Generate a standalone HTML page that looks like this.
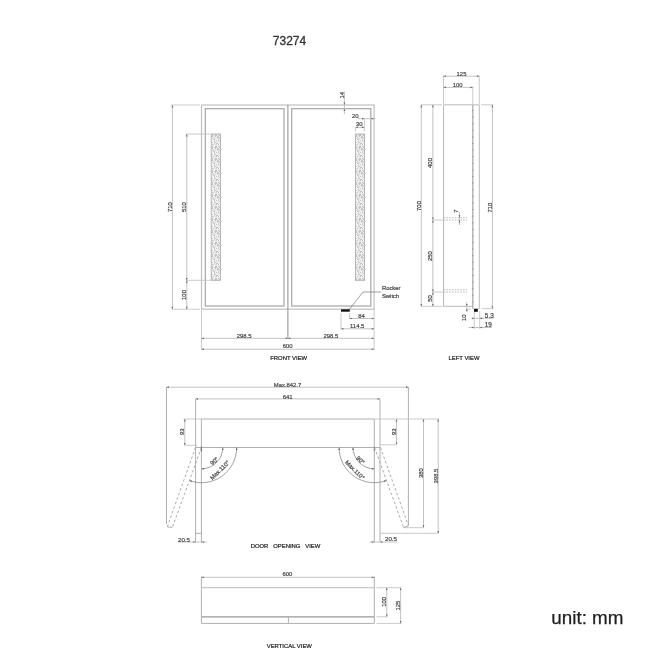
<!DOCTYPE html>
<html><head><meta charset="utf-8">
<style>
html,body{margin:0;padding:0;background:#fff;width:650px;height:650px;overflow:hidden}
svg{position:absolute;left:0;top:0;filter:blur(0.5px)}
text{font-family:"Liberation Sans",sans-serif}
</style></head><body>
<svg width="650" height="650" viewBox="0 0 650 650">
<defs>
<pattern id="led" x="211" y="134" width="9" height="12" patternUnits="userSpaceOnUse"><rect width="9" height="12" fill="#e2e2e2"/><rect x="0" y="0" width="1" height="1" fill="rgb(222,222,222)"/><rect x="1" y="0" width="1" height="1" fill="rgb(210,210,210)"/><rect x="2" y="0" width="1" height="1" fill="rgb(232,232,232)"/><rect x="3" y="0" width="1" height="1" fill="rgb(250,250,250)"/><rect x="4" y="0" width="1" height="1" fill="rgb(195,195,195)"/><rect x="5" y="0" width="1" height="1" fill="rgb(195,195,195)"/><rect x="6" y="0" width="1" height="1" fill="rgb(242,242,242)"/><rect x="7" y="0" width="1" height="1" fill="rgb(195,195,195)"/><rect x="8" y="0" width="1" height="1" fill="rgb(222,222,222)"/><rect x="0" y="1" width="1" height="1" fill="rgb(242,242,242)"/><rect x="1" y="1" width="1" height="1" fill="rgb(195,195,195)"/><rect x="2" y="1" width="1" height="1" fill="rgb(242,242,242)"/><rect x="3" y="1" width="1" height="1" fill="rgb(210,210,210)"/><rect x="4" y="1" width="1" height="1" fill="rgb(195,195,195)"/><rect x="5" y="1" width="1" height="1" fill="rgb(195,195,195)"/><rect x="6" y="1" width="1" height="1" fill="rgb(232,232,232)"/><rect x="7" y="1" width="1" height="1" fill="rgb(232,232,232)"/><rect x="8" y="1" width="1" height="1" fill="rgb(195,195,195)"/><rect x="0" y="2" width="1" height="1" fill="rgb(210,210,210)"/><rect x="1" y="2" width="1" height="1" fill="rgb(195,195,195)"/><rect x="2" y="2" width="1" height="1" fill="rgb(242,242,242)"/><rect x="3" y="2" width="1" height="1" fill="rgb(232,232,232)"/><rect x="4" y="2" width="1" height="1" fill="rgb(195,195,195)"/><rect x="5" y="2" width="1" height="1" fill="rgb(242,242,242)"/><rect x="6" y="2" width="1" height="1" fill="rgb(195,195,195)"/><rect x="7" y="2" width="1" height="1" fill="rgb(210,210,210)"/><rect x="8" y="2" width="1" height="1" fill="rgb(250,250,250)"/><rect x="0" y="3" width="1" height="1" fill="rgb(250,250,250)"/><rect x="1" y="3" width="1" height="1" fill="rgb(242,242,242)"/><rect x="2" y="3" width="1" height="1" fill="rgb(195,195,195)"/><rect x="3" y="3" width="1" height="1" fill="rgb(242,242,242)"/><rect x="4" y="3" width="1" height="1" fill="rgb(242,242,242)"/><rect x="5" y="3" width="1" height="1" fill="rgb(232,232,232)"/><rect x="6" y="3" width="1" height="1" fill="rgb(195,195,195)"/><rect x="7" y="3" width="1" height="1" fill="rgb(210,210,210)"/><rect x="8" y="3" width="1" height="1" fill="rgb(195,195,195)"/><rect x="0" y="4" width="1" height="1" fill="rgb(242,242,242)"/><rect x="1" y="4" width="1" height="1" fill="rgb(210,210,210)"/><rect x="2" y="4" width="1" height="1" fill="rgb(222,222,222)"/><rect x="3" y="4" width="1" height="1" fill="rgb(232,232,232)"/><rect x="4" y="4" width="1" height="1" fill="rgb(210,210,210)"/><rect x="5" y="4" width="1" height="1" fill="rgb(242,242,242)"/><rect x="6" y="4" width="1" height="1" fill="rgb(195,195,195)"/><rect x="7" y="4" width="1" height="1" fill="rgb(242,242,242)"/><rect x="8" y="4" width="1" height="1" fill="rgb(222,222,222)"/><rect x="0" y="5" width="1" height="1" fill="rgb(242,242,242)"/><rect x="1" y="5" width="1" height="1" fill="rgb(250,250,250)"/><rect x="2" y="5" width="1" height="1" fill="rgb(210,210,210)"/><rect x="3" y="5" width="1" height="1" fill="rgb(195,195,195)"/><rect x="4" y="5" width="1" height="1" fill="rgb(242,242,242)"/><rect x="5" y="5" width="1" height="1" fill="rgb(242,242,242)"/><rect x="6" y="5" width="1" height="1" fill="rgb(250,250,250)"/><rect x="7" y="5" width="1" height="1" fill="rgb(210,210,210)"/><rect x="8" y="5" width="1" height="1" fill="rgb(222,222,222)"/><rect x="0" y="6" width="1" height="1" fill="rgb(195,195,195)"/><rect x="1" y="6" width="1" height="1" fill="rgb(242,242,242)"/><rect x="2" y="6" width="1" height="1" fill="rgb(250,250,250)"/><rect x="3" y="6" width="1" height="1" fill="rgb(195,195,195)"/><rect x="4" y="6" width="1" height="1" fill="rgb(242,242,242)"/><rect x="5" y="6" width="1" height="1" fill="rgb(195,195,195)"/><rect x="6" y="6" width="1" height="1" fill="rgb(242,242,242)"/><rect x="7" y="6" width="1" height="1" fill="rgb(210,210,210)"/><rect x="8" y="6" width="1" height="1" fill="rgb(232,232,232)"/><rect x="0" y="7" width="1" height="1" fill="rgb(250,250,250)"/><rect x="1" y="7" width="1" height="1" fill="rgb(242,242,242)"/><rect x="2" y="7" width="1" height="1" fill="rgb(232,232,232)"/><rect x="3" y="7" width="1" height="1" fill="rgb(222,222,222)"/><rect x="4" y="7" width="1" height="1" fill="rgb(232,232,232)"/><rect x="5" y="7" width="1" height="1" fill="rgb(242,242,242)"/><rect x="6" y="7" width="1" height="1" fill="rgb(232,232,232)"/><rect x="7" y="7" width="1" height="1" fill="rgb(222,222,222)"/><rect x="8" y="7" width="1" height="1" fill="rgb(222,222,222)"/><rect x="0" y="8" width="1" height="1" fill="rgb(210,210,210)"/><rect x="1" y="8" width="1" height="1" fill="rgb(210,210,210)"/><rect x="2" y="8" width="1" height="1" fill="rgb(250,250,250)"/><rect x="3" y="8" width="1" height="1" fill="rgb(210,210,210)"/><rect x="4" y="8" width="1" height="1" fill="rgb(195,195,195)"/><rect x="5" y="8" width="1" height="1" fill="rgb(242,242,242)"/><rect x="6" y="8" width="1" height="1" fill="rgb(222,222,222)"/><rect x="7" y="8" width="1" height="1" fill="rgb(242,242,242)"/><rect x="8" y="8" width="1" height="1" fill="rgb(232,232,232)"/><rect x="0" y="9" width="1" height="1" fill="rgb(222,222,222)"/><rect x="1" y="9" width="1" height="1" fill="rgb(250,250,250)"/><rect x="2" y="9" width="1" height="1" fill="rgb(232,232,232)"/><rect x="3" y="9" width="1" height="1" fill="rgb(222,222,222)"/><rect x="4" y="9" width="1" height="1" fill="rgb(242,242,242)"/><rect x="5" y="9" width="1" height="1" fill="rgb(195,195,195)"/><rect x="6" y="9" width="1" height="1" fill="rgb(195,195,195)"/><rect x="7" y="9" width="1" height="1" fill="rgb(242,242,242)"/><rect x="8" y="9" width="1" height="1" fill="rgb(232,232,232)"/><rect x="0" y="10" width="1" height="1" fill="rgb(210,210,210)"/><rect x="1" y="10" width="1" height="1" fill="rgb(222,222,222)"/><rect x="2" y="10" width="1" height="1" fill="rgb(210,210,210)"/><rect x="3" y="10" width="1" height="1" fill="rgb(232,232,232)"/><rect x="4" y="10" width="1" height="1" fill="rgb(232,232,232)"/><rect x="5" y="10" width="1" height="1" fill="rgb(195,195,195)"/><rect x="6" y="10" width="1" height="1" fill="rgb(250,250,250)"/><rect x="7" y="10" width="1" height="1" fill="rgb(195,195,195)"/><rect x="8" y="10" width="1" height="1" fill="rgb(242,242,242)"/><rect x="0" y="11" width="1" height="1" fill="rgb(242,242,242)"/><rect x="1" y="11" width="1" height="1" fill="rgb(222,222,222)"/><rect x="2" y="11" width="1" height="1" fill="rgb(222,222,222)"/><rect x="3" y="11" width="1" height="1" fill="rgb(250,250,250)"/><rect x="4" y="11" width="1" height="1" fill="rgb(222,222,222)"/><rect x="5" y="11" width="1" height="1" fill="rgb(242,242,242)"/><rect x="6" y="11" width="1" height="1" fill="rgb(232,232,232)"/><rect x="7" y="11" width="1" height="1" fill="rgb(242,242,242)"/><rect x="8" y="11" width="1" height="1" fill="rgb(232,232,232)"/></pattern>
</defs>
<text x="289.5" y="44.6" font-size="12" fill="#333" stroke="#333" stroke-width="0.3" text-anchor="middle">73274</text>
<text x="551.3" y="624.2" font-size="18" fill="#1e1e1e" stroke="#1e1e1e" stroke-width="0.25" textLength="72.2" lengthAdjust="spacingAndGlyphs">unit: mm</text>
<rect x="201.5" y="105" width="172.6" height="204.2" fill="none" stroke="#c0c0c0" stroke-width="1.2"/>
<rect x="205.3" y="108.7" width="78.7" height="197.3" fill="none" stroke="#a6a6a6" stroke-width="1.2"/>
<rect x="291.7" y="108.7" width="79.1" height="197.3" fill="none" stroke="#a6a6a6" stroke-width="1.2"/>
<line x1="287.9" y1="105" x2="287.9" y2="338.3" stroke="#999" stroke-width="1.1"/>
<rect x="211.2" y="134" width="9.2" height="146.3" fill="url(#led)" stroke="#a8a8a8" stroke-width="0.8"/>
<rect x="355.5" y="134" width="9.1" height="146.3" fill="url(#led)" stroke="#a8a8a8" stroke-width="0.8"/>
<line x1="171.5" y1="105" x2="200" y2="105" stroke="#c4c4c4" stroke-width="0.9"/>
<line x1="171.5" y1="309.2" x2="200" y2="309.2" stroke="#c4c4c4" stroke-width="0.9"/>
<line x1="172.4" y1="105" x2="172.4" y2="309.2" stroke="#bcbcbc" stroke-width="0.9"/>
<polygon points="172.4,105 173.25,107.40 171.55,107.40" fill="#666"/>
<polygon points="172.4,309.2 171.55,306.80 173.25,306.80" fill="#666"/>
<text x="0" y="0" font-size="5.9" fill="#3c3c3c" text-anchor="middle" dominant-baseline="central" transform="translate(169.7,207.2) rotate(-90)" stroke="#4a4a4a" stroke-width="0.2">710</text>
<line x1="186" y1="134" x2="210.5" y2="134" stroke="#c4c4c4" stroke-width="0.9"/>
<line x1="186" y1="280.3" x2="210.5" y2="280.3" stroke="#c4c4c4" stroke-width="0.9"/>
<line x1="186.8" y1="134" x2="186.8" y2="280.3" stroke="#bcbcbc" stroke-width="0.9"/>
<polygon points="186.8,134 187.65,136.40 185.95,136.40" fill="#666"/>
<polygon points="186.8,280.3 185.95,277.90 187.65,277.90" fill="#666"/>
<line x1="186.8" y1="280.3" x2="186.8" y2="309.2" stroke="#bcbcbc" stroke-width="0.9"/>
<polygon points="186.8,280.3 187.65,282.70 185.95,282.70" fill="#666"/>
<polygon points="186.8,309.2 185.95,306.80 187.65,306.80" fill="#666"/>
<text x="0" y="0" font-size="5.9" fill="#3c3c3c" text-anchor="middle" dominant-baseline="central" transform="translate(184.3,207.2) rotate(-90)" stroke="#4a4a4a" stroke-width="0.2">510</text>
<text x="0" y="0" font-size="5.9" fill="#3c3c3c" text-anchor="middle" dominant-baseline="central" transform="translate(184.1,295) rotate(-90)" stroke="#4a4a4a" stroke-width="0.2">100</text>
<line x1="344.4" y1="91.5" x2="344.4" y2="114.2" stroke="#bcbcbc" stroke-width="0.9"/>
<polygon points="344.4,105 343.55,102.60 345.25,102.60" fill="#666"/>
<polygon points="344.4,108.7 345.25,111.10 343.55,111.10" fill="#666"/>
<text x="0" y="0" font-size="5.9" fill="#3c3c3c" text-anchor="middle" dominant-baseline="central" transform="translate(341.9,95.2) rotate(-90)" stroke="#4a4a4a" stroke-width="0.2">14</text>
<line x1="358" y1="118.7" x2="375.5" y2="118.7" stroke="#bcbcbc" stroke-width="0.9"/>
<polygon points="364.4,118.7 362.00,119.55 362.00,117.85" fill="#666"/>
<polygon points="370.8,118.7 373.20,117.85 373.20,119.55" fill="#666"/>
<text x="355.2" y="116.4" font-size="5.9" fill="#3c3c3c" text-anchor="middle" dominant-baseline="central" stroke="#4a4a4a" stroke-width="0.2">20</text>
<line x1="364.3" y1="118.7" x2="364.3" y2="131.5" stroke="#c4c4c4" stroke-width="0.9"/>
<line x1="355.4" y1="127.3" x2="364.3" y2="127.3" stroke="#bcbcbc" stroke-width="0.9"/>
<polygon points="355.4,127.3 357.80,126.45 357.80,128.15" fill="#666"/>
<polygon points="364.3,127.3 361.90,128.15 361.90,126.45" fill="#666"/>
<line x1="355.4" y1="127.3" x2="355.4" y2="131.5" stroke="#c4c4c4" stroke-width="0.9"/>
<text x="359.2" y="124.1" font-size="5.9" fill="#3c3c3c" text-anchor="middle" dominant-baseline="central" stroke="#4a4a4a" stroke-width="0.2">30</text>
<rect x="341" y="309.3" width="8.8" height="2.4" fill="#111"/>
<polyline points="349.5,309 363,292 381,292" stroke="#777" stroke-width="0.7" fill="none"/>
<text x="381.9" y="288.2" font-size="5.9" fill="#333" text-anchor="start" dominant-baseline="central" stroke="#4a4a4a" stroke-width="0.2">Rocker</text>
<text x="381.9" y="295.8" font-size="5.9" fill="#333" text-anchor="start" dominant-baseline="central" stroke="#4a4a4a" stroke-width="0.2">Switch</text>
<line x1="349.5" y1="313" x2="349.5" y2="319" stroke="#c4c4c4" stroke-width="0.9"/>
<line x1="341" y1="313" x2="341" y2="329.5" stroke="#c4c4c4" stroke-width="0.9"/>
<line x1="374.1" y1="309.2" x2="374.1" y2="350" stroke="#c4c4c4" stroke-width="0.9"/>
<line x1="349.5" y1="318.5" x2="374.1" y2="318.5" stroke="#bcbcbc" stroke-width="0.9"/>
<polygon points="349.5,318.5 351.90,317.65 351.90,319.35" fill="#666"/>
<polygon points="374.1,318.5 371.70,319.35 371.70,317.65" fill="#666"/>
<text x="361.5" y="315.6" font-size="5.9" fill="#3c3c3c" text-anchor="middle" dominant-baseline="central" stroke="#4a4a4a" stroke-width="0.2">84</text>
<line x1="341" y1="328.8" x2="374.1" y2="328.8" stroke="#bcbcbc" stroke-width="0.9"/>
<polygon points="341,328.8 343.40,327.95 343.40,329.65" fill="#666"/>
<polygon points="374.1,328.8 371.70,329.65 371.70,327.95" fill="#666"/>
<text x="357.2" y="326.1" font-size="5.9" fill="#3c3c3c" text-anchor="middle" dominant-baseline="central" stroke="#4a4a4a" stroke-width="0.2">114.5</text>
<line x1="201.5" y1="309.2" x2="201.5" y2="350" stroke="#c4c4c4" stroke-width="0.9"/>
<line x1="201.5" y1="338.3" x2="288" y2="338.3" stroke="#bcbcbc" stroke-width="0.9"/>
<polygon points="201.5,338.3 203.90,337.45 203.90,339.15" fill="#666"/>
<polygon points="288,338.3 285.60,339.15 285.60,337.45" fill="#666"/>
<text x="244.2" y="336.1" font-size="5.9" fill="#3c3c3c" text-anchor="middle" dominant-baseline="central" stroke="#4a4a4a" stroke-width="0.2">298.5</text>
<line x1="288" y1="338.3" x2="374.1" y2="338.3" stroke="#bcbcbc" stroke-width="0.9"/>
<polygon points="288,338.3 290.40,337.45 290.40,339.15" fill="#666"/>
<polygon points="374.1,338.3 371.70,339.15 371.70,337.45" fill="#666"/>
<text x="330.8" y="336.1" font-size="5.9" fill="#3c3c3c" text-anchor="middle" dominant-baseline="central" stroke="#4a4a4a" stroke-width="0.2">298.5</text>
<line x1="201.5" y1="349.2" x2="374.1" y2="349.2" stroke="#bcbcbc" stroke-width="0.9"/>
<polygon points="201.5,349.2 203.90,348.35 203.90,350.05" fill="#666"/>
<polygon points="374.1,349.2 371.70,350.05 371.70,348.35" fill="#666"/>
<text x="287.7" y="346.3" font-size="5.9" fill="#3c3c3c" text-anchor="middle" dominant-baseline="central" stroke="#4a4a4a" stroke-width="0.2">600</text>
<text x="288.7" y="357.7" font-size="5.9" fill="#222" text-anchor="middle" dominant-baseline="central" stroke="#2a2a2a" stroke-width="0.22">FRONT VIEW</text>
<line x1="443.5" y1="104.8" x2="443.5" y2="306.3" stroke="#bababa" stroke-width="1"/>
<line x1="443.5" y1="104.8" x2="479.3" y2="104.8" stroke="#bababa" stroke-width="1"/>
<line x1="479.3" y1="104.8" x2="479.3" y2="308.6" stroke="#bababa" stroke-width="1"/>
<line x1="443.5" y1="306.3" x2="472.8" y2="306.3" stroke="#bababa" stroke-width="1"/>
<line x1="472.8" y1="104.8" x2="472.8" y2="308.6" stroke="#a8a8a8" stroke-width="1.2"/>
<line x1="472.8" y1="110" x2="472.8" y2="306" stroke="#8a8a8a" stroke-width="1.2" stroke-dasharray="1 5.6"/>
<line x1="472.8" y1="308.6" x2="479.3" y2="308.6" stroke="#b0b0b0" stroke-width="0.8"/>
<rect x="474" y="309" width="3.8" height="2.8" fill="#111"/>
<line x1="420.5" y1="104.8" x2="442" y2="104.8" stroke="#c4c4c4" stroke-width="0.9"/>
<line x1="481" y1="104.8" x2="493.5" y2="104.8" stroke="#c4c4c4" stroke-width="0.9"/>
<line x1="420.5" y1="306.3" x2="442" y2="306.3" stroke="#c4c4c4" stroke-width="0.9"/>
<line x1="482" y1="308.6" x2="493.5" y2="308.6" stroke="#c4c4c4" stroke-width="0.9"/>
<line x1="443.5" y1="75.5" x2="443.5" y2="104" stroke="#c4c4c4" stroke-width="0.9"/>
<line x1="479.3" y1="75.5" x2="479.3" y2="104" stroke="#c4c4c4" stroke-width="0.9"/>
<line x1="472.8" y1="86.5" x2="472.8" y2="104" stroke="#c4c4c4" stroke-width="0.9"/>
<line x1="443.5" y1="76.2" x2="479.3" y2="76.2" stroke="#bcbcbc" stroke-width="0.9"/>
<polygon points="443.5,76.2 445.90,75.35 445.90,77.05" fill="#666"/>
<polygon points="479.3,76.2 476.90,77.05 476.90,75.35" fill="#666"/>
<text x="461.5" y="74.0" font-size="5.9" fill="#3c3c3c" text-anchor="middle" dominant-baseline="central" stroke="#4a4a4a" stroke-width="0.2">125</text>
<line x1="443.5" y1="87.4" x2="472.8" y2="87.4" stroke="#bcbcbc" stroke-width="0.9"/>
<polygon points="443.5,87.4 445.90,86.55 445.90,88.25" fill="#666"/>
<polygon points="472.8,87.4 470.40,88.25 470.40,86.55" fill="#666"/>
<text x="457.7" y="84.9" font-size="5.9" fill="#3c3c3c" text-anchor="middle" dominant-baseline="central" stroke="#4a4a4a" stroke-width="0.2">100</text>
<line x1="421.3" y1="104.8" x2="421.3" y2="306.3" stroke="#bcbcbc" stroke-width="0.9"/>
<polygon points="421.3,104.8 422.15,107.20 420.45,107.20" fill="#666"/>
<polygon points="421.3,306.3 420.45,303.90 422.15,303.90" fill="#666"/>
<text x="0" y="0" font-size="5.9" fill="#3c3c3c" text-anchor="middle" dominant-baseline="central" transform="translate(418.9,206) rotate(-90)" stroke="#4a4a4a" stroke-width="0.2">700</text>
<line x1="492.4" y1="104.8" x2="492.4" y2="308.6" stroke="#bcbcbc" stroke-width="0.9"/>
<polygon points="492.4,104.8 493.25,107.20 491.55,107.20" fill="#666"/>
<polygon points="492.4,308.6 491.55,306.20 493.25,306.20" fill="#666"/>
<text x="0" y="0" font-size="5.9" fill="#3c3c3c" text-anchor="middle" dominant-baseline="central" transform="translate(489.7,207.7) rotate(-90)" stroke="#4a4a4a" stroke-width="0.2">710</text>
<line x1="432.9" y1="104.8" x2="432.9" y2="220" stroke="#bcbcbc" stroke-width="0.9"/>
<polygon points="432.9,104.8 433.75,107.20 432.05,107.20" fill="#666"/>
<polygon points="432.9,220 432.05,217.60 433.75,217.60" fill="#666"/>
<text x="0" y="0" font-size="5.9" fill="#3c3c3c" text-anchor="middle" dominant-baseline="central" transform="translate(430.1,163) rotate(-90)" stroke="#4a4a4a" stroke-width="0.2">400</text>
<line x1="432.9" y1="220" x2="432.9" y2="292" stroke="#bcbcbc" stroke-width="0.9"/>
<polygon points="432.9,220 433.75,222.40 432.05,222.40" fill="#666"/>
<polygon points="432.9,292 432.05,289.60 433.75,289.60" fill="#666"/>
<text x="0" y="0" font-size="5.9" fill="#3c3c3c" text-anchor="middle" dominant-baseline="central" transform="translate(430.1,256.2) rotate(-90)" stroke="#4a4a4a" stroke-width="0.2">250</text>
<line x1="432.9" y1="292" x2="432.9" y2="306.3" stroke="#bcbcbc" stroke-width="0.9"/>
<polygon points="432.9,292 433.75,294.40 432.05,294.40" fill="#666"/>
<polygon points="432.9,306.3 432.05,303.90 433.75,303.90" fill="#666"/>
<text x="0" y="0" font-size="5.9" fill="#3c3c3c" text-anchor="middle" dominant-baseline="central" transform="translate(430.1,298.5) rotate(-90)" stroke="#4a4a4a" stroke-width="0.2">50</text>
<line x1="432.9" y1="220" x2="443.5" y2="220" stroke="#c4c4c4" stroke-width="0.9"/>
<line x1="443.5" y1="217.7" x2="467" y2="217.7" stroke="#aaa" stroke-width="0.8" stroke-dasharray="1.6 1.2"/>
<line x1="443.5" y1="220" x2="467" y2="220" stroke="#aaa" stroke-width="0.8" stroke-dasharray="1.6 1.2"/>
<line x1="432.9" y1="292" x2="443.5" y2="292" stroke="#c4c4c4" stroke-width="0.9"/>
<line x1="443.5" y1="289.7" x2="467" y2="289.7" stroke="#aaa" stroke-width="0.8" stroke-dasharray="1.6 1.2"/>
<line x1="443.5" y1="292" x2="467" y2="292" stroke="#aaa" stroke-width="0.8" stroke-dasharray="1.6 1.2"/>
<line x1="459.5" y1="212" x2="459.5" y2="225" stroke="#bcbcbc" stroke-width="0.9"/>
<polygon points="459.5,217.7 458.65,215.30 460.35,215.30" fill="#666"/>
<polygon points="459.5,220 460.35,222.40 458.65,222.40" fill="#666"/>
<text x="0" y="0" font-size="5.9" fill="#3c3c3c" text-anchor="middle" dominant-baseline="central" transform="translate(456.2,211.2) rotate(-90)" stroke="#4a4a4a" stroke-width="0.2">7</text>
<line x1="466.8" y1="302" x2="466.8" y2="312" stroke="#bcbcbc" stroke-width="0.9"/>
<line x1="466.8" y1="309" x2="471" y2="309" stroke="#c4c4c4" stroke-width="0.9"/>
<polygon points="466.8,306.3 465.95,303.90 467.65,303.90" fill="#666"/>
<polygon points="466.8,308.6 467.65,311.00 465.95,311.00" fill="#666"/>
<text x="0" y="0" font-size="5.9" fill="#3c3c3c" text-anchor="middle" dominant-baseline="central" transform="translate(463.8,317.8) rotate(-90)" stroke="#4a4a4a" stroke-width="0.2">10</text>
<line x1="474.3" y1="312" x2="474.3" y2="329" stroke="#c4c4c4" stroke-width="0.9"/>
<line x1="479.7" y1="311" x2="479.7" y2="329" stroke="#c4c4c4" stroke-width="0.9"/>
<line x1="472.8" y1="318.3" x2="493.5" y2="318.3" stroke="#bcbcbc" stroke-width="0.9"/>
<polygon points="474.3,318.3 471.90,319.15 471.90,317.45" fill="#666"/>
<polygon points="479.7,318.3 482.10,317.45 482.10,319.15" fill="#666"/>
<text x="489.3" y="315.6" font-size="6.4" fill="#3c3c3c" text-anchor="middle" dominant-baseline="central" stroke="#4a4a4a" stroke-width="0.2">5.3</text>
<line x1="468.6" y1="327.5" x2="492.2" y2="327.5" stroke="#bcbcbc" stroke-width="0.9"/>
<polygon points="474.3,327.5 471.90,328.35 471.90,326.65" fill="#666"/>
<polygon points="479.7,327.5 482.10,326.65 482.10,328.35" fill="#666"/>
<text x="488.2" y="324.3" font-size="6.4" fill="#3c3c3c" text-anchor="middle" dominant-baseline="central" stroke="#4a4a4a" stroke-width="0.2">19</text>
<text x="464" y="357.7" font-size="5.9" fill="#222" text-anchor="middle" dominant-baseline="central" stroke="#2a2a2a" stroke-width="0.22">LEFT VIEW</text>
<line x1="201.4" y1="419" x2="374.3" y2="419" stroke="#b0b0b0" stroke-width="1"/>
<line x1="195.6" y1="447.5" x2="380" y2="447.5" stroke="#b0b0b0" stroke-width="1"/>
<line x1="201.4" y1="419" x2="201.4" y2="542.5" stroke="#b0b0b0" stroke-width="1"/>
<line x1="374.3" y1="419" x2="374.3" y2="542.5" stroke="#b0b0b0" stroke-width="1"/>
<line x1="195.6" y1="398.9" x2="195.6" y2="542.5" stroke="#b0b0b0" stroke-width="1"/>
<line x1="380" y1="398.9" x2="380" y2="542.5" stroke="#b0b0b0" stroke-width="1"/>
<line x1="195.6" y1="533.3" x2="201.4" y2="533.3" stroke="#b0b0b0" stroke-width="1"/>
<line x1="380" y1="533.3" x2="438.6" y2="533.3" stroke="#c4c4c4" stroke-width="0.9"/>
<line x1="166.5" y1="387.2" x2="166.5" y2="524" stroke="#b0b0b0" stroke-width="1"/>
<line x1="408.4" y1="387.2" x2="408.4" y2="525.8" stroke="#b0b0b0" stroke-width="1"/>
<line x1="166.5" y1="387.2" x2="408.4" y2="387.2" stroke="#bcbcbc" stroke-width="0.9"/>
<polygon points="166.5,387.2 168.90,386.35 168.90,388.05" fill="#666"/>
<polygon points="408.4,387.2 406.00,388.05 406.00,386.35" fill="#666"/>
<text x="287.5" y="384.5" font-size="5.9" fill="#3c3c3c" text-anchor="middle" dominant-baseline="central" stroke="#4a4a4a" stroke-width="0.2">Max.842.7</text>
<line x1="195.6" y1="398.9" x2="380" y2="398.9" stroke="#bcbcbc" stroke-width="0.9"/>
<polygon points="195.6,398.9 198.00,398.05 198.00,399.75" fill="#666"/>
<polygon points="380,398.9 377.60,399.75 377.60,398.05" fill="#666"/>
<text x="287.6" y="396.5" font-size="5.9" fill="#3c3c3c" text-anchor="middle" dominant-baseline="central" stroke="#4a4a4a" stroke-width="0.2">641</text>
<line x1="183.5" y1="419" x2="201" y2="419" stroke="#c4c4c4" stroke-width="0.9"/>
<line x1="375" y1="419" x2="439" y2="419" stroke="#c4c4c4" stroke-width="0.9"/>
<line x1="184.8" y1="419" x2="184.8" y2="445.3" stroke="#bcbcbc" stroke-width="0.9"/>
<polygon points="184.8,419 185.65,421.40 183.95,421.40" fill="#666"/>
<polygon points="184.8,445.3 183.95,442.90 185.65,442.90" fill="#666"/>
<line x1="184.2" y1="445.3" x2="197" y2="445.3" stroke="#c4c4c4" stroke-width="0.9"/>
<text x="0" y="0" font-size="5.9" fill="#3c3c3c" text-anchor="middle" dominant-baseline="central" transform="translate(182.0,431.8) rotate(-90)" stroke="#4a4a4a" stroke-width="0.2">93</text>
<line x1="396.5" y1="419" x2="396.5" y2="444.8" stroke="#bcbcbc" stroke-width="0.9"/>
<polygon points="396.5,419 397.35,421.40 395.65,421.40" fill="#666"/>
<polygon points="396.5,444.8 395.65,442.40 397.35,442.40" fill="#666"/>
<line x1="381" y1="444.8" x2="397" y2="444.8" stroke="#c4c4c4" stroke-width="0.9"/>
<text x="0" y="0" font-size="5.9" fill="#3c3c3c" text-anchor="middle" dominant-baseline="central" transform="translate(393.9,431.7) rotate(-90)" stroke="#4a4a4a" stroke-width="0.2">93</text>
<line x1="423.5" y1="419" x2="423.5" y2="527.7" stroke="#bcbcbc" stroke-width="0.9"/>
<polygon points="423.5,419 424.35,421.40 422.65,421.40" fill="#666"/>
<polygon points="423.5,527.7 422.65,525.30 424.35,525.30" fill="#666"/>
<line x1="403.5" y1="527.7" x2="423.5" y2="527.7" stroke="#c4c4c4" stroke-width="0.9"/>
<text x="0" y="0" font-size="5.9" fill="#3c3c3c" text-anchor="middle" dominant-baseline="central" transform="translate(421.0,473.2) rotate(-90)" stroke="#4a4a4a" stroke-width="0.2">380</text>
<line x1="438.2" y1="419" x2="438.2" y2="533.3" stroke="#bcbcbc" stroke-width="0.9"/>
<polygon points="438.2,419 439.05,421.40 437.35,421.40" fill="#666"/>
<polygon points="438.2,533.3 437.35,530.90 439.05,530.90" fill="#666"/>
<text x="0" y="0" font-size="5.9" fill="#3c3c3c" text-anchor="middle" dominant-baseline="central" transform="translate(435.7,476) rotate(-90)" stroke="#4a4a4a" stroke-width="0.2">398.5</text>
<line x1="177.7" y1="542" x2="206.8" y2="542" stroke="#bcbcbc" stroke-width="0.9"/>
<polygon points="195.6,542 193.20,542.85 193.20,541.15" fill="#666"/>
<polygon points="201.4,542 203.80,541.15 203.80,542.85" fill="#666"/>
<text x="184" y="539.2" font-size="6.2" fill="#3c3c3c" text-anchor="middle" dominant-baseline="central" stroke="#4a4a4a" stroke-width="0.2">20.5</text>
<line x1="369.4" y1="542" x2="397" y2="542" stroke="#bcbcbc" stroke-width="0.9"/>
<polygon points="374.3,542 371.90,542.85 371.90,541.15" fill="#666"/>
<polygon points="380,542 382.40,541.15 382.40,542.85" fill="#666"/>
<text x="391" y="538.9" font-size="6.2" fill="#3c3c3c" text-anchor="middle" dominant-baseline="central" stroke="#4a4a4a" stroke-width="0.2">20.5</text>
<line x1="201.4" y1="446.5" x2="201.4" y2="451.5" stroke="#666" stroke-width="1.1"/>
<line x1="374.3" y1="446.5" x2="374.3" y2="451.5" stroke="#888" stroke-width="1"/>
<line x1="195.5" y1="447.5" x2="167.3" y2="526.8" stroke="#a2a2a2" stroke-width="0.9" stroke-dasharray="2.6 2.2"/>
<line x1="201.5" y1="447.5" x2="172.3" y2="527.5" stroke="#a2a2a2" stroke-width="0.9" stroke-dasharray="2.6 2.2"/>
<line x1="167.3" y1="526.8" x2="172.3" y2="527.5" stroke="#a2a2a2" stroke-width="0.9"/>
<line x1="380.5" y1="447.5" x2="408.4" y2="525.8" stroke="#a2a2a2" stroke-width="0.9" stroke-dasharray="2.6 2.2"/>
<line x1="374.5" y1="447.5" x2="403.6" y2="527.5" stroke="#a2a2a2" stroke-width="0.9" stroke-dasharray="2.6 2.2"/>
<line x1="403.6" y1="527.5" x2="408.4" y2="525.8" stroke="#a2a2a2" stroke-width="0.9"/>
<path d="M222.80,447.50 A21.3,21.3 0 0 1 201.50,468.80" fill="none" stroke="#8a8a8a" stroke-width="0.8"/>
<polygon points="222.8,447.5 223.65,449.90 221.95,449.90" fill="#666"/>
<polygon points="201.5,468.8 203.90,467.95 203.90,469.65" fill="#666"/>
<path d="M236.70,447.50 A35.2,35.2 0 0 1 189.46,480.58" fill="none" stroke="#8a8a8a" stroke-width="0.8"/>
<polygon points="236.7,447.5 237.55,449.90 235.85,449.90" fill="#666"/>
<polygon points="189.46089095493647,480.577180251664 192.01,480.60 191.43,482.20" fill="#666"/>
<path d="M374.30,468.80 A21.3,21.3 0 0 1 353.00,447.50" fill="none" stroke="#8a8a8a" stroke-width="0.8"/>
<polygon points="353.0,447.5 353.85,449.90 352.15,449.90" fill="#666"/>
<polygon points="374.3,468.8 371.90,469.65 371.90,467.95" fill="#666"/>
<path d="M386.34,480.58 A35.2,35.2 0 0 1 339.10,447.50" fill="none" stroke="#8a8a8a" stroke-width="0.8"/>
<polygon points="339.1,447.5 339.95,449.90 338.25,449.90" fill="#666"/>
<polygon points="386.33910904506354,480.577180251664 384.37,482.20 383.79,480.60" fill="#666"/>
<text x="0" y="0" font-size="5.9" fill="#3c3c3c" text-anchor="middle" dominant-baseline="central" transform="translate(214.3,461.0) rotate(-45)" stroke="#4a4a4a" stroke-width="0.2">90°</text>
<text x="0" y="0" font-size="5.9" fill="#3c3c3c" text-anchor="middle" dominant-baseline="central" transform="translate(219.8,470.2) rotate(-45)" stroke="#4a4a4a" stroke-width="0.2">Max.110°</text>
<text x="0" y="0" font-size="5.9" fill="#3c3c3c" text-anchor="middle" dominant-baseline="central" transform="translate(360.4,460.2) rotate(45)" stroke="#4a4a4a" stroke-width="0.2">90°</text>
<text x="0" y="0" font-size="5.9" fill="#3c3c3c" text-anchor="middle" dominant-baseline="central" transform="translate(354.8,470.0) rotate(45)" stroke="#4a4a4a" stroke-width="0.2">Max.110°</text>
<text x="285.5" y="545.5" font-size="5.9" fill="#222" text-anchor="middle" dominant-baseline="central" stroke="#2a2a2a" stroke-width="0.22">DOOR&#160;&#160;&#160;OPENING&#160;&#160;&#160;VIEW</text>
<line x1="201.4" y1="576.5" x2="201.4" y2="623.4" stroke="#b0b0b0" stroke-width="1"/>
<line x1="374.3" y1="576.5" x2="374.3" y2="623.4" stroke="#b0b0b0" stroke-width="1"/>
<line x1="201.4" y1="587.7" x2="374.3" y2="587.7" stroke="#c6c6c6" stroke-width="1.2"/>
<line x1="201.4" y1="616.8" x2="374.3" y2="616.8" stroke="#999" stroke-width="1.3"/>
<line x1="201.4" y1="623.4" x2="374.3" y2="623.4" stroke="#b0b0b0" stroke-width="1"/>
<line x1="288.4" y1="616.8" x2="288.4" y2="623.4" stroke="#b0b0b0" stroke-width="1"/>
<line x1="201.4" y1="577.3" x2="374.3" y2="577.3" stroke="#bcbcbc" stroke-width="0.9"/>
<polygon points="201.4,577.3 203.80,576.45 203.80,578.15" fill="#666"/>
<polygon points="374.3,577.3 371.90,578.15 371.90,576.45" fill="#666"/>
<text x="287.4" y="574.4" font-size="5.9" fill="#3c3c3c" text-anchor="middle" dominant-baseline="central" stroke="#4a4a4a" stroke-width="0.2">600</text>
<line x1="376.5" y1="587.7" x2="401.5" y2="587.7" stroke="#c4c4c4" stroke-width="0.9"/>
<line x1="376.5" y1="616.8" x2="387.5" y2="616.8" stroke="#c4c4c4" stroke-width="0.9"/>
<line x1="376.5" y1="623.4" x2="401.5" y2="623.4" stroke="#c4c4c4" stroke-width="0.9"/>
<line x1="386.8" y1="587.7" x2="386.8" y2="616.8" stroke="#bcbcbc" stroke-width="0.9"/>
<polygon points="386.8,587.7 387.65,590.10 385.95,590.10" fill="#666"/>
<polygon points="386.8,616.8 385.95,614.40 387.65,614.40" fill="#666"/>
<text x="0" y="0" font-size="5.9" fill="#3c3c3c" text-anchor="middle" dominant-baseline="central" transform="translate(384.0,601.8) rotate(-90)" stroke="#4a4a4a" stroke-width="0.2">100</text>
<line x1="400.6" y1="587.7" x2="400.6" y2="623.4" stroke="#bcbcbc" stroke-width="0.9"/>
<polygon points="400.6,587.7 401.45,590.10 399.75,590.10" fill="#666"/>
<polygon points="400.6,623.4 399.75,621.00 401.45,621.00" fill="#666"/>
<text x="0" y="0" font-size="5.9" fill="#3c3c3c" text-anchor="middle" dominant-baseline="central" transform="translate(397.8,605.7) rotate(-90)" stroke="#4a4a4a" stroke-width="0.2">125</text>
<text x="289.3" y="645.8" font-size="5.9" fill="#222" text-anchor="middle" dominant-baseline="central" stroke="#2a2a2a" stroke-width="0.22">VERTICAL VIEW</text>
</svg>
</body></html>
